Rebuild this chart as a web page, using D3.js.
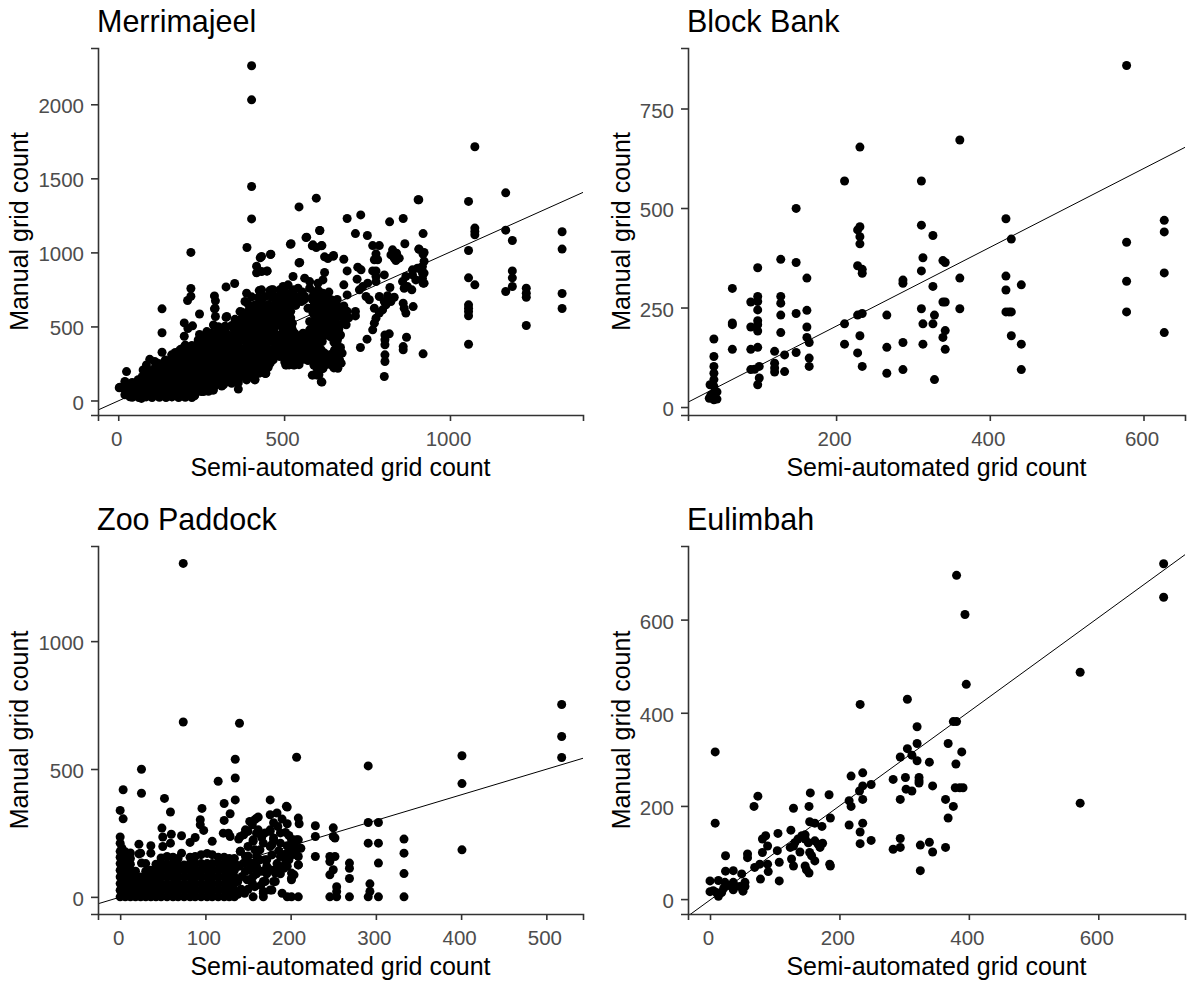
<html>
	<head>
		<title>Manual vs semi-automated grid counts</title>
		<script src="https://d3js.org/d3.v7.min.js" charset="utf-8"></script>
		<style>
		body {
			margin: 0;
			background: white;
			font-family: "Liberation Sans", Arial, sans-serif;
		}
		.panel-title { font-size: 30.5px; fill: #000; }
		.axis-title { font-size: 25px; fill: #000; }
		.tick text { font-size: 20.5px; fill: #4d4d4d; font-family: "Liberation Sans", Arial, sans-serif; }
		.tick line, .domain { stroke: #333; }
		</style>
	</head>
	<body>
	<script>
	//axis text
	var xLabel = "Semi-automated grid count";
	var yLabel = "Manual grid count";
	var titles = ["Merrimajeel", "Block Bank", "Zoo Paddock", "Eulimbah"];

	//tick labels for each panel
	var xTicks = [[0, 500, 1000], [200, 400, 600], [0, 100, 200, 300, 400, 500], [0, 200, 400, 600]];
	var yTicks = [[0, 500, 1000, 1500, 2000], [0, 250, 500, 750], [0, 500, 1000], [0, 200, 400, 600]];

	//axis limits
	var xLimits = [[-61, 1401], [7.3, 654], [-26, 543], [-34, 734]];
	var yLimits = [[-98, 2380], [-20, 902], [-67, 1372], [-32, 758]];

	//fitted lines, intercept then slope
	var fits = [[-3, 1.005], [5, 0.99], [-1, 1.0], [-2, 1.01]];

	//points, [semi-automated, manual]
	var merrimajeel = [
		[402,2260],[402,2030],[402,1445],[402,1226],[219,1000],[388,1033],[428,964],[459,986],[417,907],[417,862],[448,873],[545,1307],[597,1366],[519,1055],[566,1100],[607,1148],[585,1044],[597,1033],[612,1044],[545,929],[622,970],[632,959],[648,974],
		[325,767],[351,790],[219,756],[219,704],[209,675],[132,619],[132,457],[132,326],[245,584],[290,706],[293,673],[290,619],[199,524],[224,504],[199,434],[210,486],[325,561],[245,446],
		[25,195],[3,86],[15,80],[35,25],[70,14],[230,32],[285,70],[255,70],[362,77],[412,142],[444,183],[505,239],[529,239],[585,171],[600,171],[612,126],[585,288],
		[690,1229],[731,1253],[818,1206],[859,1229],[904,1355],[919,1127],[608,1147],[568,1103],[521,1058],[715,1127],[751,1114],[767,1046],[787,1046],[864,1058],[587,1051],[614,1046],[460,988],[547,932],[649,979],[680,954],[907,1021],[919,988],[827,1017],[839,994],[822,983],[832,961],[847,961],[837,945],
		[777,990],[772,950],[782,950],[777,875],[767,875],[722,900],[732,882],[690,875],[802,848],[777,837],[622,864],[527,837],[562,826],[577,803],[617,814],[602,792],[720,819],[680,781],[752,792],[777,803],[737,769],[727,747],[747,702],[757,680],[690,713],[819,763],[787,702],[812,707],[832,697],[802,668],[822,668],[772,623],[807,646],[797,612],[787,590],[777,556],[772,522],[767,477],[750,414],[730,358],[715,601],[715,571],
		[859,657],[862,623],[889,634],[867,590],[804,443],[817,450],[804,410],[804,376],[804,308],[804,263],[802,162],[869,427],[859,364],[859,342],[919,315],
		[917,905],[902,893],[887,882],[917,860],[917,826],[919,792],[887,848],[867,837],[857,803],[872,769],[885,747],[897,814],[862,758],
		[497,770],[512,781],[487,747],[527,747],[542,758],[577,758],[602,747],[617,724],[627,691],[642,680],[652,646],[662,612],[672,567],[687,511],[632,623],[622,646],[637,578],[647,533],[617,567],[622,522],[632,477],[607,477],[662,421],[662,353],[612,432],[602,387],[612,342],[612,286],[632,252],[667,274],[672,252],[662,218],[587,286],[652,342],
		[497,657],[512,646],[552,668],[572,623],[587,590],[577,533],[557,454],[532,454],[522,499],[512,556],[502,589],[577,477],[562,443],[467,747],[472,702],[477,657],[472,612],[482,567],[449,875],[432,972],[432,871],[432,747],[432,680],[462,747],[507,241],[532,241],[445,184],[592,173],[605,173],[614,124],[467,274],
		[487,364],[477,432],[497,409],[527,342],[547,364],[567,387],[577,364],[527,297],[557,320],[447,477],[462,398],[442,387],[432,297],[452,274],[487,297],
		[1075,1713],[1056,1344],[1168,1402],[906,1355],[1168,1150],[1188,1080],[1075,1164],[1075,1141],[1075,1119],[1056,1013],[1056,828],[1075,781],[1056,646],[1056,623],[1056,601],[1056,572],[1056,380],[1188,875],[1188,828],[1188,770],[1168,736],[1230,758],[1230,724],[1230,697],[1230,506],[1338,1139],[1338,1022],[1338,722],[1338,621],[922,1000],[922,940],[922,860],[922,792],[906,1022],
		[20,128],[5,90],[35,83],[50,105],[65,60],[35,38],[20,38],[85,240],[95,278],[75,206],[110,263],[126,207],[80,150],[105,161],[95,94],[121,60],[141,38],[161,26],[181,71],[176,139],[161,195],[171,240],[161,308],[186,342],[201,364],[216,353],[241,409],[256,386],[267,465],[282,454],[231,38],[257,60],[287,71],[211,105],[236,116],[317,105],[332,128],[357,150],[387,139],[412,139],[442,184],[196,162],[226,229],[246,274],[277,251],[297,296],[317,319],[297,207],[337,229],[357,274],[372,229],[392,251],[417,229],[447,274],[337,341],[362,409],[387,386],[417,364],[447,341],[307,398],[332,443],[287,510],[293,567],[292,623],[367,510],[387,555],[367,600],[327,567],[382,668],[387,724],[417,521],[437,544],[425,742],[457,742],[430,679],[447,634],[417,589],[442,443],[407,465],[347,488],
		[32,42],[52,38],[74,44],[92,36],[112,42],[134,40],[152,44],[172,38],[192,42],[212,36],
		[18,82],[38,78],[60,84],[78,80],[98,76],[118,84],[140,78],[158,82],[178,80],[198,84],[218,76],[240,82],[262,78],[284,100],
		[42,122],[60,118],[82,124],[100,120],[122,116],[140,122],[162,118],[180,124],[202,120],[220,116],[242,122],[260,118],[282,124],[300,118],[322,122],[342,116],[362,120],
		[72,160],[90,164],[112,158],[130,162],[150,160],[170,156],[192,164],[210,160],[230,158],[250,164],[270,160],[290,156],[310,162],[330,160],[350,158],[370,164],[392,160],
		[92,204],[114,198],[132,202],[152,200],[172,204],[194,198],[214,202],[234,200],[254,196],[274,204],[294,200],[314,198],[334,202],[354,200],[374,196],[394,204],[414,198],[434,200],
		[122,250],[142,246],[180,252],[200,248],[222,254],[240,246],[262,250],[280,254],[302,248],[322,252],[342,246],[362,250],[382,254],[402,248],[422,252],[442,246],[458,252],
		[172,298],[192,302],[212,296],[232,304],[252,298],[272,302],[292,296],[312,304],[332,298],[352,302],[372,296],[392,304],[412,298],[432,302],[452,316],[472,300],
		[192,350],[212,346],[232,352],[252,346],[272,354],[292,348],[312,352],[332,346],[352,354],[372,348],[392,352],[412,346],[432,354],[452,348],[472,352],[492,346],
		[242,400],[262,396],[282,404],[302,398],[322,402],[342,396],[382,404],[402,398],[422,402],[452,396],[482,404],[502,398],
		[292,450],[312,446],[352,452],[372,446],[392,454],[412,448],[432,452],[452,446],[472,454],[492,448],[512,452],
		[302,498],[322,502],[342,506],[362,498],[382,504],[402,500],[432,496],[452,504],[472,498],[492,504],[512,500],
		[352,548],[372,552],[392,546],[412,554],[432,548],[452,552],[472,546],[492,552],
		[372,598],[392,602],[412,596],[432,602],[452,598],[472,604],[492,598],
		[392,650],[412,646],[432,652],[452,648],[472,654],[492,650],
		[402,700],[422,696],[442,702],[462,698],
		[42,22],[62,20],[84,24],[102,20],[124,22],[144,20],[162,24],[182,20],[202,22],[222,20],
		[28,62],[48,60],[68,64],[88,60],[108,62],[128,60],[150,64],[168,60],[188,62],[208,60],[230,64],[250,60],[272,62],
		[32,100],[52,102],[70,98],[90,100],[110,102],[130,98],[150,100],[170,102],[190,98],[210,100],[230,102],[250,98],[270,100],[292,102],[312,98],
		[60,140],[82,142],[100,138],[120,140],[140,142],[160,138],[180,140],[200,142],[220,138],[240,140],[260,142],[280,138],[300,140],[320,142],[340,138],[362,140],
		[82,182],[102,180],[122,184],[142,182],[162,180],[182,184],[204,182],[224,180],[244,184],[264,182],[284,180],[304,184],[324,182],[344,180],[364,184],[384,182],[404,180],[424,184],
		[112,226],[132,224],[150,228],[172,226],[192,224],[212,228],[232,226],[252,224],[272,228],[292,226],[312,224],[332,228],[352,226],[382,224],[402,228],[432,226],[452,224],
		[142,274],[162,272],[182,276],[202,274],[222,272],[242,276],[262,274],[282,272],[302,276],[322,274],[342,272],[362,276],[382,274],[402,272],[422,276],[462,274],
		[172,324],[202,322],[222,326],[242,324],[262,322],[282,326],[302,324],[322,322],[342,326],[362,324],[382,322],[402,326],[422,324],[442,322],[462,326],[482,324],
		[202,374],[222,372],[242,376],[262,374],[282,372],[302,376],[322,374],[342,372],[362,376],[402,374],[422,372],[442,376],[482,374],[502,372],
		[252,424],[272,422],[292,426],[312,424],[332,422],[352,426],[372,424],[392,422],[412,426],[432,424],[462,422],[492,426],[512,424],
		[302,474],[322,472],[362,476],[382,474],[402,472],[422,476],[442,474],[462,472],[502,476],
		[362,524],[382,522],[402,526],[422,524],[442,522],[462,526],[482,524],[502,522],
		[382,574],[402,572],[422,576],[442,574],[462,572],[402,624],[422,622],[442,626],[462,624],[482,622],
		[487,702],[487,657],[497,612],[492,567],[497,522],[497,477],[512,432],[522,410],[542,410],[557,410],[572,410],[592,432],[592,477],[597,522],[602,567],[597,612],[602,657],[587,702],[562,702],[537,702],[517,702],[502,712],[537,672],
		[592,650],[607,700],[622,700],[642,640],[637,600],[650,590],[627,540],[640,500],[655,470],[625,440],[640,430],[650,395],[597,320],[622,320],[640,310],[655,300],[597,250],[612,250],[647,260],[600,215],[617,215],[650,220],
		[497,340],[507,300],[512,390],[517,360],[502,260],[522,270],[537,280],[552,275],[572,270],[542,320],[572,320],[592,340],[582,400],[545,390],
		[505,730],[525,728],[555,732],[590,730],[610,728],[635,732],[490,680],[505,682],[525,678],[560,680],[585,682],[610,678],[635,680],[660,682],
		[490,640],[515,638],[535,642],[590,640],[610,638],[630,642],[660,640],[680,638],[510,600],[520,602],[590,598],[605,600],[625,602],[645,598],[665,600],[690,602],
		[505,560],[520,558],[595,562],[610,560],[630,558],[655,562],[680,560],[695,558],[510,520],[525,522],[590,518],[605,520],[640,522],[660,518],[680,520],
		[510,480],[525,478],[590,482],[615,480],[645,478],[665,482],[510,440],[530,442],[550,438],[570,440],[590,442],[605,438],[645,440],[670,442],
		[520,400],[535,398],[560,402],[590,400],[615,398],[660,402],[505,360],[535,362],[560,358],[590,360],[605,362],[670,358],
		[505,320],[530,318],[560,322],[585,320],[605,318],[650,322],[675,320],[510,280],[530,282],[565,278],[590,280],[620,282],[645,278],[665,280],[515,240],[545,242],[590,238],[625,240],[640,242],[660,238]
	];

	var blockBank = [
		[41,18],[41,35],[41,52],[41,69],[41,85],[41,102],[41,127],[41,171],[36,56],[39,23],[43,23],[37,30],[35,22],[45,38],[45,20],
		[65,298],[65,211],[65,207],[65,145],[98,350],[98,278],[89,264],[98,265],[98,244],[98,217],[98,207],[89,201],[98,191],[89,145],[98,150],[89,94],[94,95],[100,102],[100,73],[98,56],
		[128,371],[128,278],[128,261],[128,231],[128,187],[120,140],[120,110],[120,98],[120,88],[133,131],[133,89],[148,499],[148,363],[148,235],[148,137],[162,324],[162,243],[162,201],[162,175],[165,162],[165,123],[165,102],
		[211,209],[211,158],[211,568],[231,653],[231,453],[228,445],[231,428],[231,410],[228,355],[234,346],[234,336],[228,231],[234,235],[231,179],[228,136],[234,102],
		[266,231],[266,150],[266,85],[287,319],[287,311],[287,162],[287,94],[311,568],[311,457],[313,375],[311,342],[326,431],[326,303],[311,247],[313,209],[313,158],[328,231],[326,209],[328,69],
		[339,368],[342,363],[361,671],[361,324],[361,247],[339,264],[342,264],[342,192],[339,175],[342,145],
		[421,473],[428,422],[421,329],[421,294],[421,239],[425,239],[428,239],[428,179],[441,307],[441,158],[441,94],
		[578,858],[578,414],[578,316],[578,239],[627,469],[627,440],[627,337],[627,187]
	];

	var zooPaddock = [
		[74,1304],[74,684],[140,679],[135,538],[207,546],[25,499],[3.5,419],[25,405],[135,465],[115,452],[52,385],[135,379],[176,379],[0,338],[3.5,305],[59,332],[96,346],[122,365],[122,299],[129,325],[196,351],
		[94,302],[94,282],[98,260],[49,269],[50,234],[60,245],[72,239],[88,232],[82,213],[0,234],[0,210],[2,191],
		[22,206],[36,200],[36,171],[22,168],[50,197],[59,210],[72,171],[108,217],[121,249],[127,249],[129,236],[139,226],[145,243],[150,256],[155,282],[158,302],[162,312],
		[176,321],[184,328],[190,304],[196,286],[194,252],[209,308],[210,286],[160,249],[156,217],[150,197],[158,184],[176,256],[180,230],[178,204],[188,210],[203,223],[207,223],[201,204],
		[141,178],[145,132],[156,132],[160,119],[151,106],[156,80],[149,67],[143,80],[155,54],[164,184],[170,145],[178,164],[190,164],[198,145],[207,191],[209,158],[209,125],
		[176,106],[182,93],[190,119],[182,60],[170,60],[168,21],[178,27],[168,0],[156,0],[204,86],[201,73],[190,14],[196,0],[201,0],[209,0],[195,354],
		[229,278],[229,236],[229,158],[250,270],[250,236],[252,230],[246,158],[252,158],[246,138],[250,106],[246,86],[254,40],[254,21],[246,0],[254,0],[269,132],[269,112],[269,72],[269,0],[291,291],[303,291],[291,512],[291,210],[303,210],[303,132],[291,0],[303,0],[293,51],[293,21],[333,226],[333,171],[333,91],[333,0],[401,552],[401,443],[401,184],[518,752],[518,627],[518,545],
		[0,0],[0,26],[0,52],[0,78],[0,104],[0,130],[0,155],[0,178],[6,0],[6,26],[6,52],[6,78],[6,104],[6,130],[6,155],[6,176],[12,0],[12,26],[12,52],[12,78],[12,104],[12,128],[12,150],[12,172],
		[18,0],[18,26],[18,52],[18,78],[18,100],[24,0],[24,26],[24,52],[24,78],[25,132],[24,171],[30,0],[30,26],[30,52],[30,78],[30,100],[30,130],
		[36,0],[36,26],[36,52],[36,78],[36,104],[42,0],[42,26],[42,52],[42,78],[42,104],[42,128],[48,0],[48,26],[48,52],[48,78],[48,104],[48,130],[48,152],
		[55,0],[55,26],[55,52],[55,78],[55,104],[55,130],[55,158],[62,0],[62,26],[62,52],[62,78],[62,104],[62,130],[62,155],[68,0],[68,26],[68,52],[68,78],[68,104],[68,125],[68,150],
		[75,0],[75,26],[75,52],[75,78],[75,104],[75,125],[82,0],[82,26],[82,52],[82,78],[82,104],[82,130],[82,155],[88,0],[88,26],[88,52],[88,78],[88,104],[88,130],[88,158],
		[95,0],[95,26],[95,52],[95,78],[95,104],[95,130],[95,165],[102,0],[102,26],[102,52],[102,78],[102,104],[102,130],[102,170],[108,0],[108,26],[108,52],[108,78],[108,104],[108,130],[108,165],
		[115,0],[115,26],[115,52],[115,78],[115,104],[115,130],[115,155],[122,0],[122,26],[122,52],[122,78],[122,104],[122,130],[122,155],[128,0],[128,26],[128,52],[128,78],[128,104],[128,130],[128,150],[134,0],[134,26],[134,52],[134,78],[134,104],[134,130],[134,150],[138,10],[138,60],
		[164,145],[160,160],[172,120],[184,130],[196,120],[188,90],[160,90],[147,100],[166,100],[150,160],[165,45],[195,170],[202,185],[180,290],[170,250],[185,275],[198,240],
		[141,236],[147,262],[152,295],[160,308],[162,262],[156,223],[176,262],[180,223],[176,197],[188,158],[194,145],[192,112],[182,106],[172,145],[147,158],[152,132],[158,112],[152,67],[168,60],[180,60],[168,14],[176,27],[141,178],[201,223],[209,223],[207,164],[209,125],[201,93],[201,67],
		[142,30],[146,14],[150,30],[140,120],[158,40],[172,90],[186,180],[168,210],[188,250],[202,165],[212,190],[196,200],[166,232]
	];

	var eulimbah = [
		[8,316],[8,163],[74,221],[68,199],[24,93],[58,97],[58,89],[0,39],[13,40],[5,18],[0,16],[10,14],[13,6],[21,23],[28,29],[36,36],[24,60],[36,61],[49,54],[54,36],[51,17],[36,20],[23,36],[18,14],[46,27],[54,27],
		[69,68],[77,75],[89,75],[90,59],[78,43],[107,39],[107,79],[86,136],[81,129],[89,114],[81,100],[104,104],[105,141],[125,148],[126,86],[129,71],[147,71],[149,63],[153,56],[185,75],[186,71],
		[129,195],[153,199],[155,228],[184,224],[186,174],[154,166],[162,163],[173,156],[131,121],[136,129],[142,136],[147,138],[129,114],[124,111],[139,101],[152,121],[154,100],[157,93],[162,82],[162,125],[167,118],[174,120],[170,111],[147,129],
		[215,159],[236,163],[232,144],[232,119],[249,126],[215,211],[218,199],[236,214],[231,232],[236,243],[249,246],[218,264],[236,271],
		[294,214],[283,257],[302,261],[323,261],[323,254],[323,249],[303,236],[312,232],[344,243],[339,294],[320,297],[312,309],[305,323],[294,305],[320,334],[320,370],[305,429],[232,418],
		[368,334],[389,316],[380,290],[376,381],[381,381],[379,239],[386,239],[391,239],[364,214],[376,199],[368,174],[396,461],[381,695],[394,611],
		[294,130],[283,107],[294,111],[325,116],[339,122],[344,101],[364,111],[325,61],
		[572,487],[572,206],[701,720],[701,648]
	];

	var panelData = [merrimajeel, blockBank, zooPaddock, eulimbah];

	//where each panel sits on the page
	var panelLeft = [98, 688, 98, 688];
	var panelRight = [583, 1185, 583, 1185];
	var panelTop = [48, 48, 546, 546];
	var panelBottom = [415, 415, 914, 914];
	var yTitleX = [28, 630, 28, 630];

	var svg = d3.select("body")
		.append("svg")
		.attr("width", 1192)
		.attr("height", 983);

	titles.forEach(function(title, i) {
		var x = d3.scaleLinear().domain(xLimits[i]).range([panelLeft[i], panelRight[i]]);
		var y = d3.scaleLinear().domain(yLimits[i]).range([panelBottom[i], panelTop[i]]);
		var g = svg.append("g");

		//keep the fitted line inside the panel
		g.append("clipPath").attr("id", "clip" + i)
			.append("rect")
			.attr("x", panelLeft[i])
			.attr("y", panelTop[i])
			.attr("width", panelRight[i] - panelLeft[i])
			.attr("height", panelBottom[i] - panelTop[i]);

		g.selectAll("circle")
			.data(panelData[i])
			.enter()
			.append("circle")
			.attr("cx", function(d) { return x(d[0]); })
			.attr("cy", function(d) { return y(d[1]); })
			.attr("r", 4.5)
			.attr("fill", "#000");

		var line = d3.line()
			.x(function(d) { return x(d); })
			.y(function(d) { return y(fits[i][0] + fits[i][1] * d); });
		g.append("path")
			.attr("d", line(xLimits[i]))
			.attr("fill", "none")
			.attr("stroke", "#000")
			.attr("stroke-width", 1)
			.attr("clip-path", "url(#clip" + i + ")");

		//axes
		var xAxis = d3.axisBottom(x).tickValues(xTicks[i]).tickFormat(d3.format("d")).tickSize(6).tickPadding(10.5);
		var yAxis = d3.axisLeft(y).tickValues(yTicks[i]).tickFormat(d3.format("d")).tickSize(7).tickPadding(7);
		var xGroup = g.append("g").attr("transform", "translate(0," + panelBottom[i] + ")").call(xAxis);
		var yGroup = g.append("g").attr("transform", "translate(" + panelLeft[i] + ",0)").call(yAxis);
		xGroup.selectAll(".domain, .tick line").attr("stroke-width", 1.6);
		yGroup.selectAll(".domain, .tick line").attr("stroke-width", 1.6);
		xGroup.selectAll("text").attr("dx", -2);
		yGroup.selectAll("text").attr("y", 2);

		//titles
		g.append("text")
			.attr("class", "panel-title")
			.attr("x", panelLeft[i] - 1)
			.attr("y", panelTop[i] - 16)
			.text(title);
		g.append("text")
			.attr("class", "axis-title")
			.attr("text-anchor", "middle")
			.attr("x", (panelLeft[i] + panelRight[i]) / 2)
			.attr("y", panelBottom[i] + 61)
			.text(xLabel);
		g.append("text")
			.attr("class", "axis-title")
			.attr("text-anchor", "middle")
			.attr("transform", "translate(" + yTitleX[i] + "," + ((panelTop[i] + panelBottom[i]) / 2) + ") rotate(-90)")
			.text(yLabel);
	});
	</script>
	</body>
</html>
